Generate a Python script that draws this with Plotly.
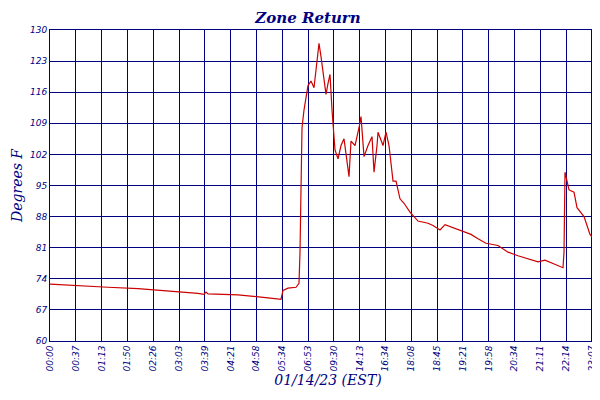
import plotly.graph_objects as go

# sample positions (axis grid units) and temperatures
pos_px = [42, 70, 100, 130, 160, 190, 196, 198, 200, 230, 260, 273, 275, 280, 288, 291, 292, 293, 294, 296, 298, 300, 303, 306, 308, 311, 313, 316, 318, 320, 322, 324, 327, 330, 333, 336, 338, 340, 341, 343, 347, 351, 353, 356, 360, 364, 366, 369, 370, 375, 378, 381, 385, 388, 392, 396, 402, 410, 420, 425, 432, 437, 445, 455, 463, 470, 478, 490, 500, 510, 520, 530, 537, 545, 555, 556, 557, 561, 566, 569, 576, 582, 587, 591, 596]
temps = [72.8, 72.4, 72.1, 71.8, 71.3, 70.7, 70.5, 71.0, 70.6, 70.4, 69.7, 69.4, 71.4, 71.9, 72.1, 73.0, 80.0, 95.0, 108.0, 112.0, 115.0, 117.5, 118.5, 117.0, 121.0, 127.0, 124.0, 118.0, 115.5, 118.0, 120.0, 112.0, 103.0, 101.0, 104.0, 105.5, 102.0, 98.0, 97.0, 105.0, 104.0, 108.0, 110.5, 101.5, 104.0, 106.0, 98.0, 104.0, 107.0, 104.0, 107.0, 104.0, 96.0, 96.0, 92.0, 91.0, 89.0, 87.0, 86.5, 86.0, 85.0, 86.2, 85.5, 84.8, 84.0, 83.0, 82.0, 81.5, 80.0, 79.2, 78.5, 77.8, 78.2, 77.5, 76.5, 80.0, 98.0, 94.0, 93.5, 90.0, 88.0, 84.0, 82.5, 82.0, 81.0]
tick_labels = ["00:00", "00:37", "01:13", "01:50", "02:26", "03:03", "03:39", "04:21", "04:58", "05:34",
               "06:53", "09:30", "14:13", "16:34", "18:08", "18:45", "19:21", "19:58", "20:34", "21:11",
               "22:14", "23:07", "23:22"]
tick_pos = [0, 1, 2, 3, 4, 5, 6, 7, 8, 9, 10, 11, 12, 13, 14, 15, 16, 17, 18, 19, 20, 21, 21.45]
y_ticks = [60, 67, 74, 81, 88, 95, 102, 109, 116, 123, 130]

x = [(p - 42) / 25.8 for p in pos_px]
navy = "#000080"
font = dict(family="DejaVu Sans", color=navy, size=10, style="italic")

fig = go.Figure(go.Scatter(x=x, y=temps, mode="lines", name="Zone Return",
                           line=dict(color="#cc0000", width=1.2)))
fig.update_layout(
    width=600, height=400, plot_bgcolor="white", paper_bgcolor="white",
    margin=dict(l=42, r=2, t=22, b=67, autoexpand=False),
    title=dict(text="<b>Zone Return</b>", x=0.5, xanchor="center", y=0.99, yanchor="top",
               font=dict(family="DejaVu Serif", size=15, color=navy, style="italic")),
    font=font, showlegend=True,
    legend=dict(orientation="h", x=0.5, xanchor="center", y=-0.19, yanchor="top",
                font=dict(family="DejaVu Sans", size=11, color=navy, style="italic")),
)
fig.update_xaxes(range=[0, 21.55], tickvals=tick_pos, ticktext=tick_labels, tickangle=-90,
                 automargin=False,
                 showgrid=True, gridcolor=navy, gridwidth=1, linecolor=navy, showline=True, mirror=True,
                 ticks="", zeroline=False, tickfont=dict(size=9, color=navy, style="italic"),
                 title=dict(text="01/14/23 (EST)", standoff=4,
                            font=dict(family="DejaVu Serif", size=14, color=navy, style="italic")))
fig.update_yaxes(range=[60, 130], tickvals=y_ticks, showgrid=True, gridcolor=navy, gridwidth=1,
                 automargin=False,
                 linecolor=navy, showline=True, mirror=True, ticks="", zeroline=False,
                 tickfont=dict(size=9, color=navy, style="italic"),
                 title=dict(text="Degrees F", standoff=4,
                            font=dict(family="DejaVu Serif", size=14, color=navy, style="italic")))
fig.write_html("out.html")
